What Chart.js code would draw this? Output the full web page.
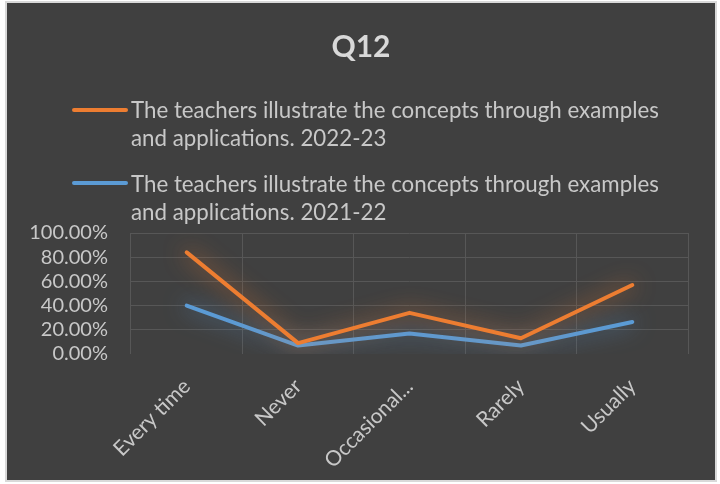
<!DOCTYPE html>
<html>
<head>
<meta charset="utf-8">
<script src="https://cdn.jsdelivr.net/npm/chart.js@4"></script>
<style>
  body { margin: 0; background: #ffffff; }
  #box { position: absolute; left: 7px; top: 3px; width: 708px; height: 477px; background: #404040; outline: 2px solid #d9d9d9; }
  #box canvas { position: absolute; left: 0; top: 0; }
  .leg { position: absolute; left: 124px; font-family: Lato, "Noto Sans", sans-serif; font-size: 22.3px; line-height: 28px; color: #c8c8c8; white-space: nowrap; }
  .swatch { position: absolute; left: 65px; width: 56px; height: 4px; border-radius: 2px; }
</style>
</head>
<body>
<div id="box">
  <canvas id="line-chartcanvas" width="708" height="477"></canvas>
  <div class="swatch" style="top:105px;background:#ED7D31"></div>
  <div class="leg" id="leg1" style="top:93px"></div>
  <div class="swatch" style="top:178px;background:#5B9BD5"></div>
  <div class="leg" id="leg2" style="top:167px"></div>
</div>
<script>
let categories = ["Every time", "Never", "Occasional...", "Rarely", "Usually"];
let yTicks = [0, 0.2, 0.4, 0.6, 0.8, 1];
let series2223 = [0.84, 0.09, 0.34, 0.13, 0.57];
let series2122 = [0.40, 0.07, 0.17, 0.07, 0.265];
let label2223 = "The teachers illustrate the concepts through examples and applications. 2022-23";
let label2122 = "The teachers illustrate the concepts through examples and applications. 2021-22";

// legend as html, wrapped like the original
document.getElementById("leg1").innerHTML = label2223.replace(" and ", "<br>and ");
document.getElementById("leg2").innerHTML = label2122.replace(" and ", "<br>and ");

// soft glow round each line
let glow = {
  id: "glow",
  beforeDatasetDraw(chart, args) {
    let ctx = chart.ctx;
    ctx.save();
    ctx.shadowColor = args.index === 0 ? "rgba(237,125,49,0.85)" : "rgba(91,155,213,0.85)";
    ctx.shadowBlur = 22;
    ctx.shadowOffsetX = 0;
    ctx.shadowOffsetY = 0;
  },
  afterDatasetDraw(chart) {
    chart.ctx.restore();
  }
};

let ctx = document.getElementById("line-chartcanvas");
let font = "Lato, 'Noto Sans', sans-serif";
let gridColor = "#575757";

let dataChart = {
  labels: categories,
  datasets: [
    {
      label: label2223,
      data: series2223,
      borderColor: "#ED7D31",
      backgroundColor: "#ED7D31",
      borderWidth: 4,
      borderCapStyle: "round",
      borderJoinStyle: "round",
      pointRadius: 0,
      fill: false,
      tension: 0
    },
    {
      label: label2122,
      data: series2122,
      borderColor: "#5B9BD5",
      backgroundColor: "#5B9BD5",
      borderWidth: 4,
      borderCapStyle: "round",
      borderJoinStyle: "round",
      pointRadius: 0,
      fill: false,
      tension: 0
    }
  ]
};

let chart = new Chart(ctx, {
  type: "line",
  data: dataChart,
  plugins: [glow],
  options: {
    responsive: false,
    animation: false,
    layout: { padding: 0 },
    plugins: {
      legend: { display: false },
      tooltip: { enabled: false },
      title: {
        display: true,
        text: "Q12",
        color: "#d9d9d9",
        font: { family: font, size: 30, weight: "bold" },
        padding: { top: 26, bottom: 168 }
      }
    },
    scales: {
      x: {
        type: "category",
        offset: true,
        ticks: {
          autoSkip: false,
          minRotation: 45,
          maxRotation: 45,
          padding: 20,
          color: "#c8c8c8",
          font: { family: font, size: 21 }
        },
        grid: { color: gridColor, drawTicks: false, offset: true },
        border: { display: false },
        afterFit(scale) { scale.height = 126; }
      },
      y: {
        min: 0,
        max: 1,
        afterBuildTicks(scale) {
          scale.ticks = yTicks.map((v) => ({ value: v }));
        },
        ticks: {
          autoSkip: false,
          padding: 23,
          color: "#c8c8c8",
          font: { family: font, size: 20 },
          callback: (v) => (v * 100).toFixed(2) + "%"
        },
        grid: {
          color: (c) => (c.tick && c.tick.value === 0 ? "rgba(0,0,0,0)" : gridColor),
          drawTicks: false
        },
        border: { display: false },
        afterFit(scale) { scale.width = 124; }
      },
      yr: {
        position: "right",
        display: true,
        ticks: { display: false },
        grid: { display: false, drawTicks: false },
        border: { display: false },
        afterFit(scale) { scale.width = 27; }
      }
    }
  }
});
</script>
</body>
</html>
